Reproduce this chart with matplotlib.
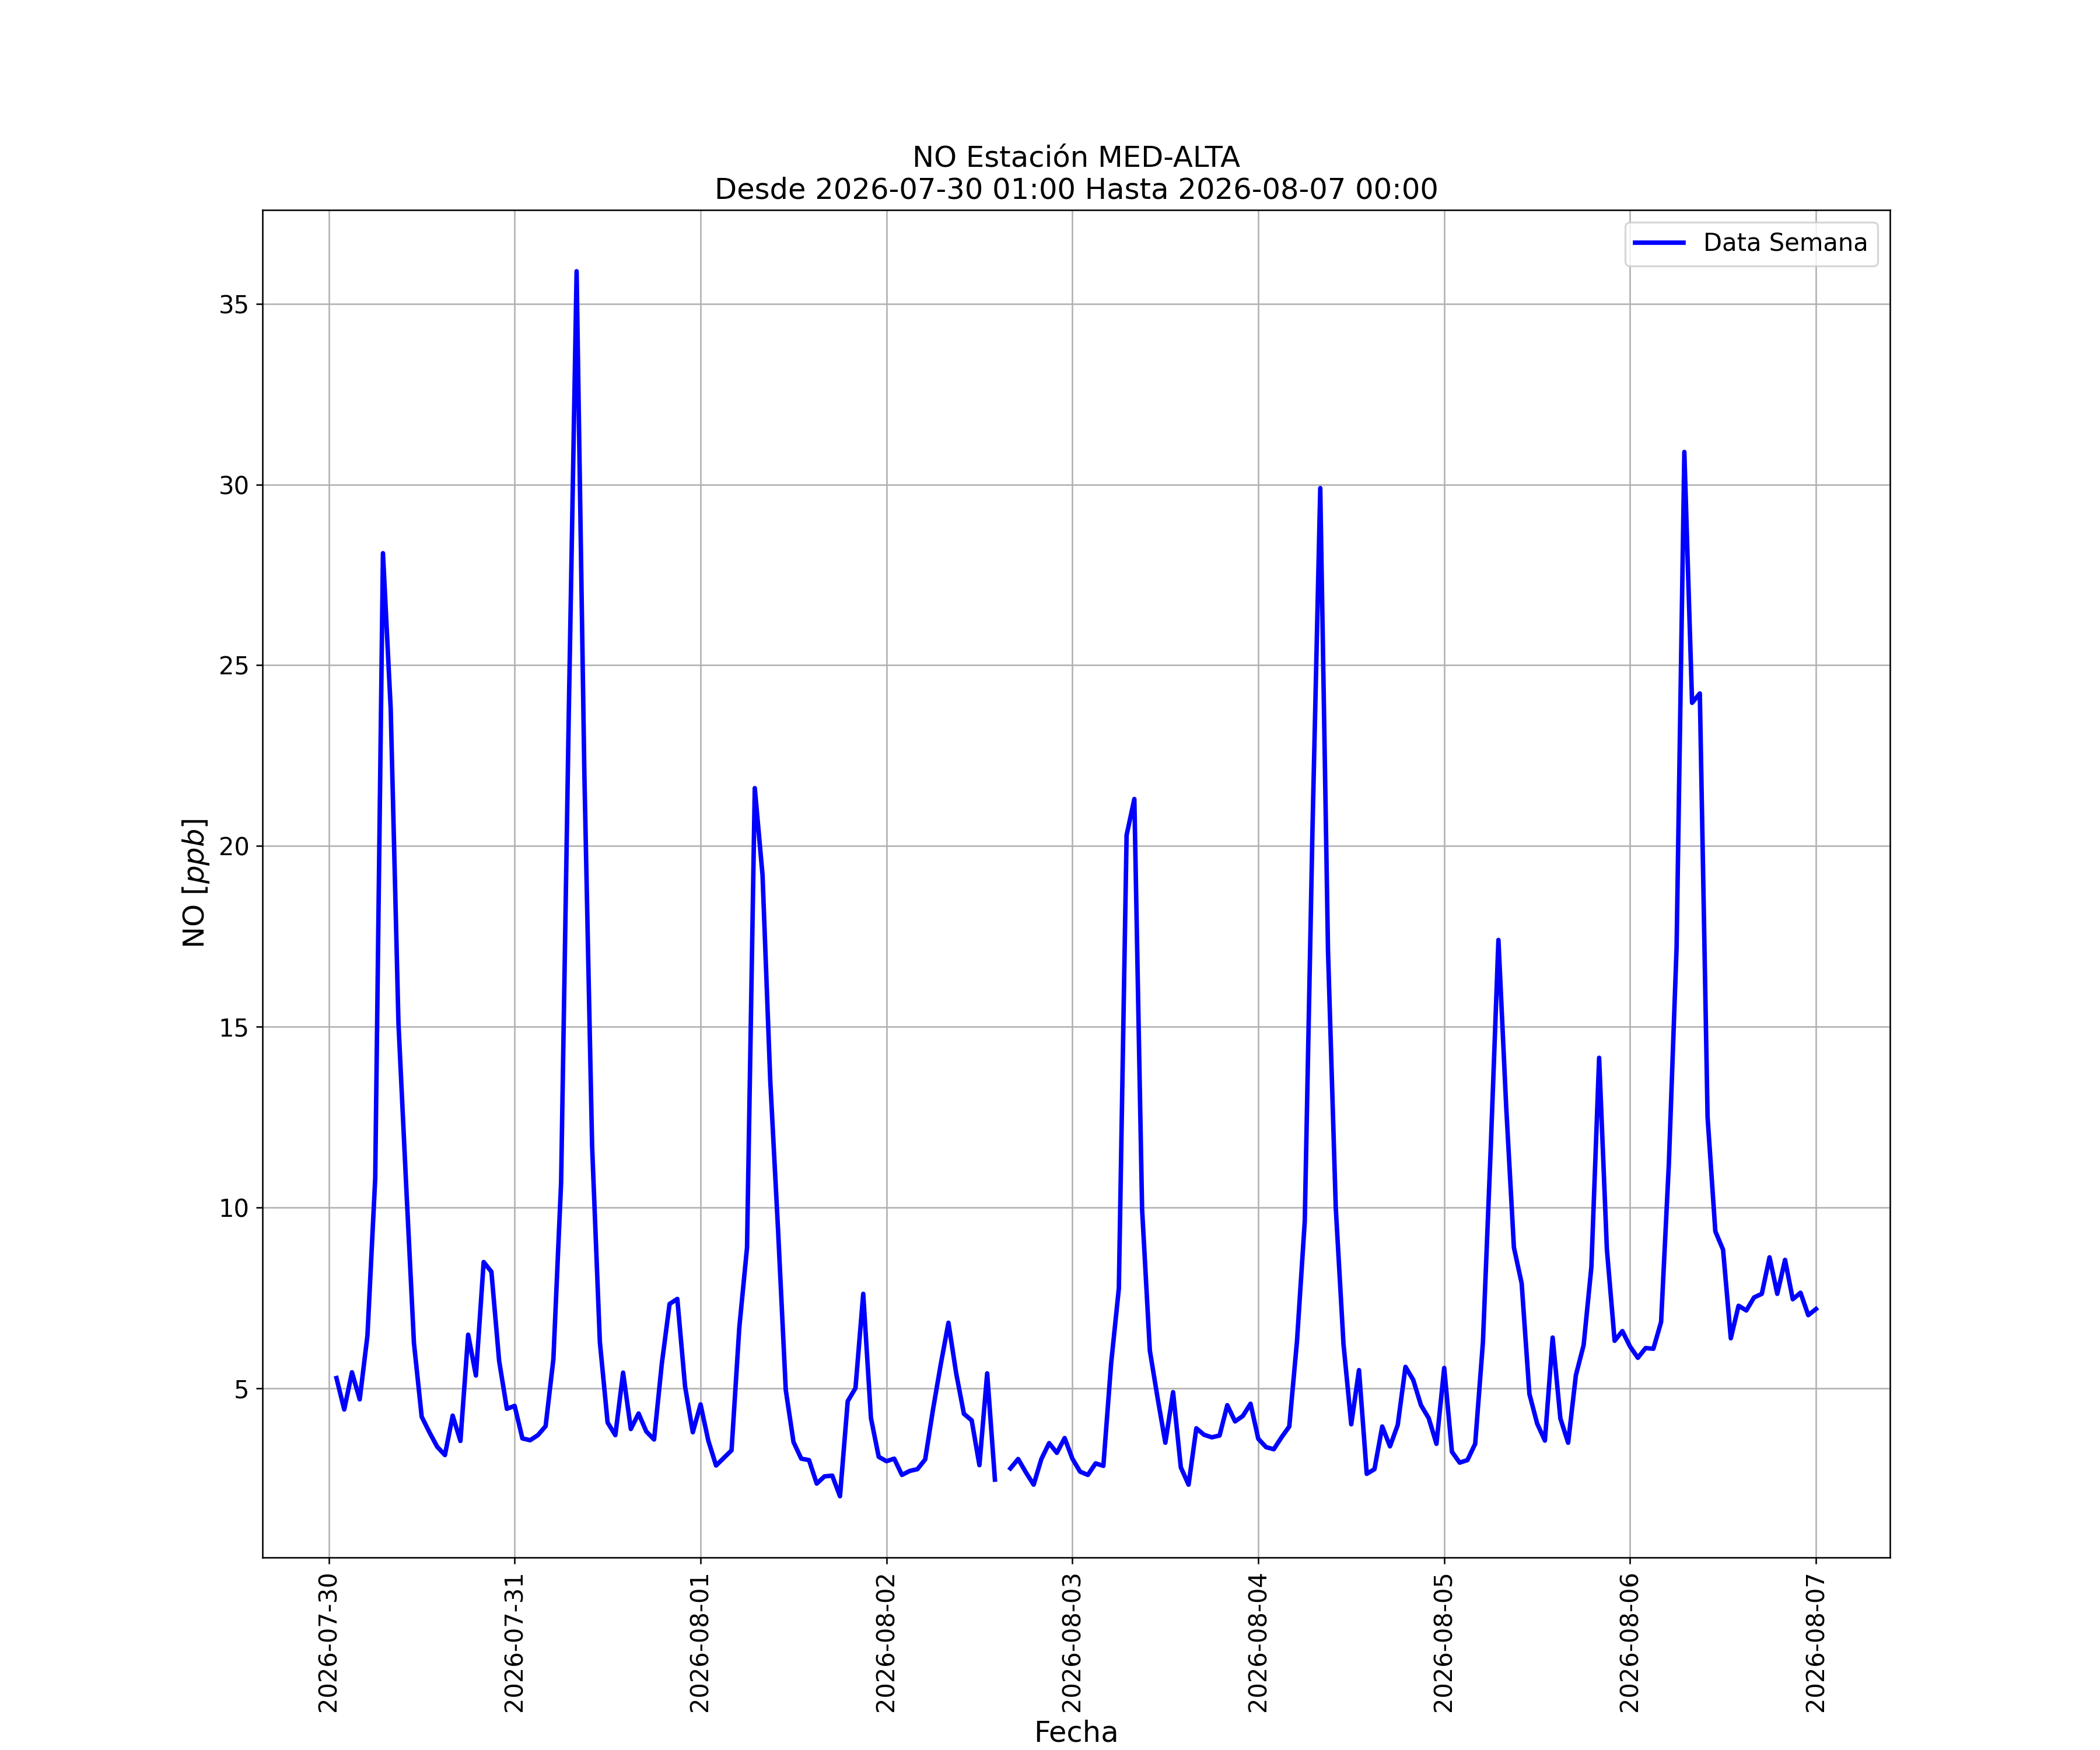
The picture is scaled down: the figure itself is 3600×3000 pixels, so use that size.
import numpy as np
import pandas as pd
import matplotlib
matplotlib.use("Agg")
import matplotlib.pyplot as plt
import matplotlib.dates as mdates

estacion = "MED-ALTA"
contaminante = "NO"
inicio = "2026-07-30 01:00"
fin = "2026-08-07 00:00"

# valores horarios (ppb), un dato por hora
dia1 = [5.28, 4.41, 5.44, 4.69, 6.46, 10.8, 28.1, 23.8, 15.1, 10.6, 6.25, 4.21,
        3.78, 3.38, 3.15, 4.24, 3.54, 6.48, 5.35, 8.49, 8.22, 5.75, 4.43, 4.51]
dia2 = [3.61, 3.56, 3.70, 3.95, 5.80, 10.7, 23.8, 35.9, 22.0, 11.7, 6.28, 4.05,
        3.70, 5.43, 3.87, 4.30, 3.80, 3.58, 5.68, 7.33, 7.47, 5.05, 3.78, 4.55]
dia3 = [3.55, 2.86, 3.07, 3.28, 6.67, 8.89, 21.6, 19.2, 13.5, 9.4, 4.95, 3.51,
        3.05, 3.01, 2.36, 2.56, 2.58, 2.01, 4.64, 5.00, 7.61, 4.17, 3.10, 2.98]
dia4 = [3.05, 2.60, 2.71, 2.76, 3.03, 4.40, 5.65, 6.81, 5.41, 4.29, 4.11, 2.87,
        5.41, 2.47, np.nan, 2.78, 3.04, 2.67, 2.33, 3.04, 3.48, 3.21, 3.62, 3.05]
dia5 = [2.69, 2.60, 2.92, 2.85, 5.68, 7.76, 20.3, 21.3, 9.95, 6.04, 4.73, 3.49,
        4.89, 2.81, 2.33, 3.89, 3.71, 3.64, 3.69, 4.53, 4.08, 4.23, 4.57, 3.60]
dia6 = [3.37, 3.31, 3.64, 3.94, 6.31, 9.62, 20.5, 29.9, 17.1, 10.0, 6.22, 4.00,
        5.50, 2.63, 2.76, 3.94, 3.39, 3.98, 5.59, 5.23, 4.53, 4.17, 3.46, 5.56]
dia7 = [3.24, 2.94, 3.01, 3.46, 6.27, 11.6, 17.4, 12.8, 8.89, 7.90, 4.84, 4.02,
        3.55, 6.40, 4.16, 3.49, 5.36, 6.19, 8.35, 14.14, 8.85, 6.31, 6.58, 6.15]
dia8 = [5.84, 6.11, 6.09, 6.83, 11.2, 17.2, 30.9, 23.96, 24.22, 12.5, 9.34, 8.83,
        6.38, 7.28, 7.15, 7.51, 7.61, 8.62, 7.61, 8.55, 7.46, 7.64, 7.02, 7.19]

valores = dia1 + dia2 + dia3 + dia4 + dia5 + dia6 + dia7 + dia8
fechas = pd.date_range(inicio, periods=len(valores), freq="h")
df = pd.DataFrame({"fecha": fechas, "valor": valores})

fig, ax = plt.subplots(figsize=(15.6, 13))

ax.plot(df["fecha"], df["valor"], color="blue", linewidth=2.4, label="Data Semana")

ax.set_title(contaminante + " Estación " + estacion + "\nDesde " + inicio + " Hasta " + fin,
             fontsize=15.5)
ax.set_xlabel("Fecha", fontsize=15.5)
ax.set_ylabel(contaminante + r" $[ppb]$", fontsize=15.5)

ax.xaxis.set_major_locator(mdates.DayLocator())
ax.xaxis.set_major_formatter(mdates.DateFormatter("%Y-%m-%d"))
plt.setp(ax.get_xticklabels(), rotation=90)
ax.tick_params(labelsize=13)

ax.grid(True)
ax.legend(loc="upper right", fontsize=13)

fig.savefig("out.png", dpi=3600 / 15.6)
